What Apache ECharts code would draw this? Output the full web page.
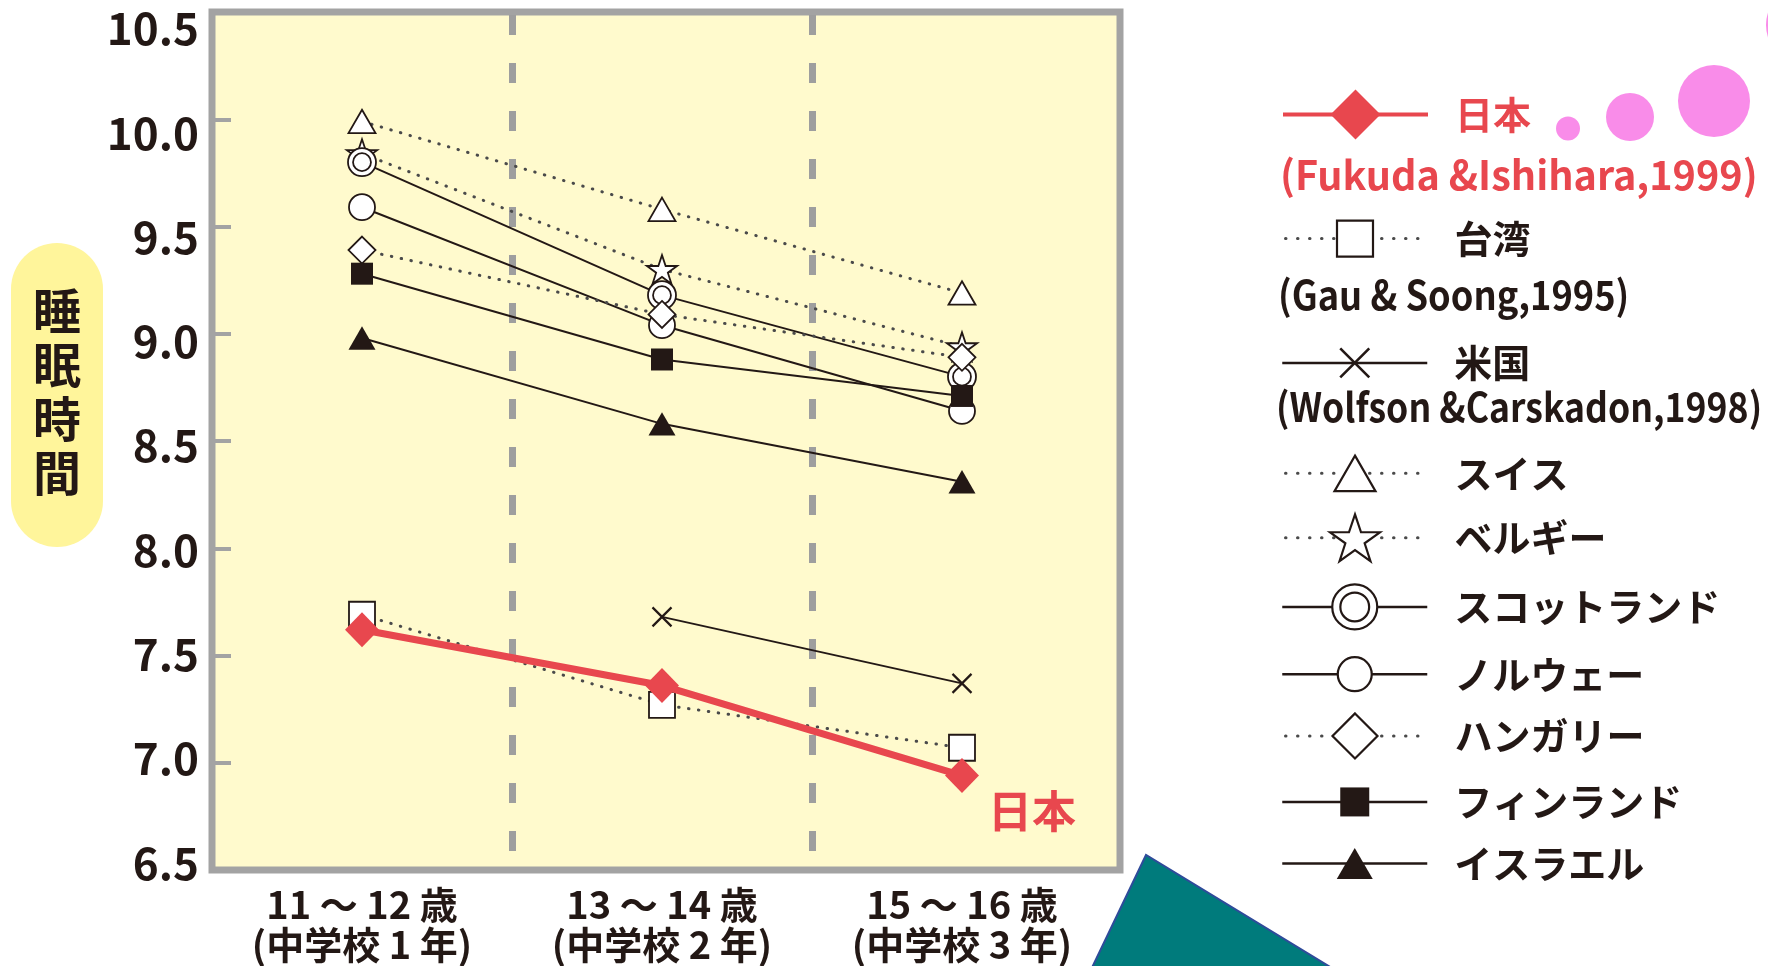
<!DOCTYPE html>
<html>
<head>
<meta charset="utf-8">
<script src="https://cdn.jsdelivr.net/npm/echarts@6/dist/echarts.min.js"></script>
<style>
  html, body { margin: 0; padding: 0; background: #ffffff; }
  #chart { width: 1768px; height: 966px; }
</style>
</head>
<body>
<div id="chart"></div>
<script>
// Average sleep duration (hours) by age group, several countries
const categories = ['11 ～ 12 歳\n(中学校 1 年)', '13 ～ 14 歳\n(中学校 2 年)', '15 ～ 16 歳\n(中学校 3 年)'];
const yMin = 6.5, yMax = 10.5, yStep = 0.5;

const japan    = [7.62, 7.36, 6.94];
const taiwan   = [7.69, 7.27, 7.07];
const usa      = [null, 7.68, 7.37];
const swiss    = [9.99, 9.58, 9.19];
const belgium  = [9.84, 9.30, 8.94];
const scotland = [9.80, 9.18, 8.80];
const norway   = [9.59, 9.04, 8.64];
const hungary  = [9.39, 9.09, 8.89];
const finland  = [9.28, 8.88, 8.71];
const israel   = [8.98, 8.58, 8.31];

const seriesNames = ['スイス', 'ベルギー', 'スコットランド', 'ノルウェー', 'ハンガリー', 'フィンランド', 'イスラエル', '米国', '台湾', '日本'];
const citations = ['(Fukuda &Ishihara,1999)', '(Gau & Soong,1995)', '(Wolfson &Carskadon,1998)'];

const FONT = '"Noto Sans CJK JP", "Noto Sans", sans-serif';
const INK = '#231815';
const RED = '#e8474e';
const DOT = '#4a4a4a';
const FRAME = '#a3a3a3';

// symbol shapes (padded with move-to points so the box stays square)
const TRI = 'path://M0 0 M100 100 M50 6.7 L100 93.3 L0 93.3 Z';
const STAR = 'path://M0 -4 M100 96 M50 0 L61.8 35.1 L98.9 35.1 L68.9 56.7 L80.3 91.9 L50 70.2 L19.7 91.9 L31.1 56.7 L1.1 35.1 L38.2 35.1 Z';
const RING2 = 'path://M50 0 A50 50 0 1 1 50 100 A50 50 0 1 1 50 0 Z M50 18 A32 32 0 1 1 50 82 A32 32 0 1 1 50 18 Z';
const CROSS = 'path://M0 0 L100 100 M100 0 L0 100';

const toPoints = arr => arr.map((v, i) => (v == null ? null : [i, v])).filter(p => p);

const solid = { color: INK, width: 2 };
const dotted = { color: DOT, width: 3, type: [0.5, 9.5], cap: 'round' };
const openStyle = { color: '#ffffff', borderColor: INK, borderWidth: 1.8 };
const fillStyle = { color: INK, borderColor: INK, borderWidth: 0 };

// per-series look: [values, symbol, chart size, line, item, legend symbol size, legend row y]
const looks = {
  'スイス':         [swiss,    TRI,      27, dotted, openStyle, 41, 474],
  'ベルギー':       [belgium,  STAR,     31, dotted, openStyle, 51, 537],
  'スコットランド': [scotland, RING2,    28, solid,  openStyle, 45, 607],
  'ノルウェー':     [norway,   'circle', 26, solid,  openStyle, 34, 675],
  'ハンガリー':     [hungary,  'diamond',27, dotted, openStyle, 45, 736],
  'フィンランド':   [finland,  'rect',   22, solid,  fillStyle, 29, 801],
  'イスラエル':     [israel,   TRI,      27, solid,  fillStyle, 36, 865],
  '米国':           [usa,      CROSS,    19, solid,  { color: INK, borderColor: INK, borderWidth: 2.2 }, 29, 362],
  '台湾':           [taiwan,   'rect',   26, dotted, openStyle, 36, 240],
  '日本':           [japan,    'diamond',[34, 35], { color: RED, width: 7 }, { color: RED, borderColor: RED, borderWidth: 0 }, 50, 115]
};

const series = seriesNames.map((name, idx) => {
  const [vals, sym, size, line, item] = looks[name];
  const s = {
    name, type: 'line', xAxisIndex: 0, yAxisIndex: 0,
    data: toPoints(vals),
    symbol: sym, symbolSize: size,
    lineStyle: line, itemStyle: item,
    z: 3 + idx, animation: false, silent: true
  };
  if (name === '日本') {
    s.data = s.data.map((p, i, all) => i === all.length - 1 ? {
      value: p,
      label: {
        show: true, formatter: '日本', position: 'right', distance: 5, offset: [4, 36],
        color: RED, fontSize: 44, fontWeight: 'bold', fontFamily: FONT
      }
    } : p);
  }
  if (idx === 0) {
    // dashed separators between the age groups
    s.markLine = {
      silent: true, symbol: 'none', z: 1, animation: false,
      label: { show: false },
      lineStyle: { color: '#9e9e9e', width: 7, type: [20, 28], dashOffset: 45, cap: 'butt' },
      data: [0.5, 1.5].map(x => [{ coord: [x, yMax] }, { coord: [x, yMin] }])
    };
  }
  return s;
});

const legends = seriesNames.slice().reverse().map(name => {
  const [, , , line, item, lsize, cy] = looks[name];
  const h = lsize / 0.8;
  const isJp = name === '日本';
  return {
    data: [name], left: 1281, top: cy - h / 2 + 0.22 * (h - 36), padding: 0,
    itemWidth: 145, itemHeight: h, selectedMode: false,
    itemStyle: {
      color: item.color, borderColor: item.borderColor,
      borderWidth: item.borderWidth ? (name === '米国' ? 2.6 : 2.2) : 0
    },
    lineStyle: {
      color: line.color, width: isJp ? 4 : (line.type ? 3 : 2.5),
      type: line.type ? [0.5, 11.5] : 'solid', cap: line.type ? 'round' : 'butt'
    },
    textStyle: {
      fontSize: 38, fontWeight: 'bold', fontFamily: FONT,
      color: isJp ? RED : INK, padding: [8, 0, 0, 22]
    }
  };
});

// reference line text: [text, left, centre y, colour, horizontal squeeze]
const citeRows = [
  [citations[0], 1280, 175, RED, 0.99],
  [citations[1], 1278, 295, INK, 0.906],
  [citations[2], 1276, 407, INK, 0.89]
];

const option = {
  backgroundColor: '#ffffff',
  animation: false,
  grid: [
    { left: 212, top: 12, width: 908, height: 858, show: true, z: 0,
      backgroundColor: '#fffacd', borderColor: FRAME, borderWidth: 7 },
    { left: 212, top: 28.5, width: 908, height: 834.5, show: false }
  ],
  xAxis: [
    { type: 'value', gridIndex: 0, min: -0.5, max: 2.5267, interval: 0.5,
      axisLine: { show: false, onZero: false }, axisTick: { show: false }, splitLine: { show: false },
      axisLabel: {
        margin: 15, fontSize: 38, lineHeight: 40, fontWeight: 'bold', fontFamily: FONT, color: INK,
        showMinLabel: true, showMaxLabel: true,
        formatter: v => (Math.abs(v - Math.round(v)) < 1e-6 && categories[Math.round(v)]) ? categories[Math.round(v)] : ''
      } },
    { type: 'value', gridIndex: 1, show: false, min: 0, max: 1 }
  ],
  yAxis: [
    { type: 'value', gridIndex: 0, min: yMin, max: yMax, interval: yStep, position: 'left', z: 2,
      axisLine: { show: false, onZero: false },
      axisTick: { show: true, inside: true, length: 19, lineStyle: { color: FRAME, width: 4 } },
      axisLabel: { show: false }, splitLine: { show: false } },
    { type: 'value', gridIndex: 1, min: yMin, max: yMax, interval: yStep,
      axisLine: { show: false, onZero: false }, axisTick: { show: false }, splitLine: { show: false },
      axisLabel: { margin: 13, fontSize: 44, fontWeight: 'bold', fontFamily: FONT, color: INK,
        formatter: v => v.toFixed(1) } }
  ],
  legend: legends,
  series,
  graphic: [
    // axis title pill
    { type: 'rect', left: 11, top: 243, shape: { width: 92, height: 304, r: 46 },
      style: { fill: '#fff59b' }, silent: true },
    { type: 'text', x: 57, y: 392, silent: true,
      style: { text: '睡\n眠\n時\n間', font: 'bold 48px ' + FONT, lineHeight: 54,
        fill: INK, align: 'center', verticalAlign: 'middle' } },
    // study references under the legend names
    ...citeRows.map(([t, x, y, c, sx]) => ({ type: 'text', x, y, scaleX: sx, silent: true,
      style: { text: t, font: 'bold 40px ' + FONT, fill: c, align: 'left', verticalAlign: 'middle' } })),
    // decorative dots
    { type: 'circle', shape: { cx: 1568, cy: 128.5, r: 12 }, style: { fill: '#f98ce9' }, silent: true },
    { type: 'circle', shape: { cx: 1630, cy: 117, r: 24 }, style: { fill: '#f98ce9' }, silent: true },
    { type: 'circle', shape: { cx: 1714, cy: 101, r: 36 }, style: { fill: '#f98ce9' }, silent: true },
    { type: 'circle', shape: { cx: 1806, cy: 25, r: 40 }, style: { fill: '#f98ce9' }, silent: true },
    // decorative teal shape
    { type: 'polygon', silent: true,
      shape: { points: [[1146, 855], [1088, 976], [1345, 976]] },
      style: { fill: '#007b7c', stroke: '#2e4b9a', lineWidth: 2 } }
  ]
};

const chart = echarts.init(document.getElementById('chart'), null, { renderer: 'canvas' });
chart.setOption(option);
</script>
</body>
</html>
